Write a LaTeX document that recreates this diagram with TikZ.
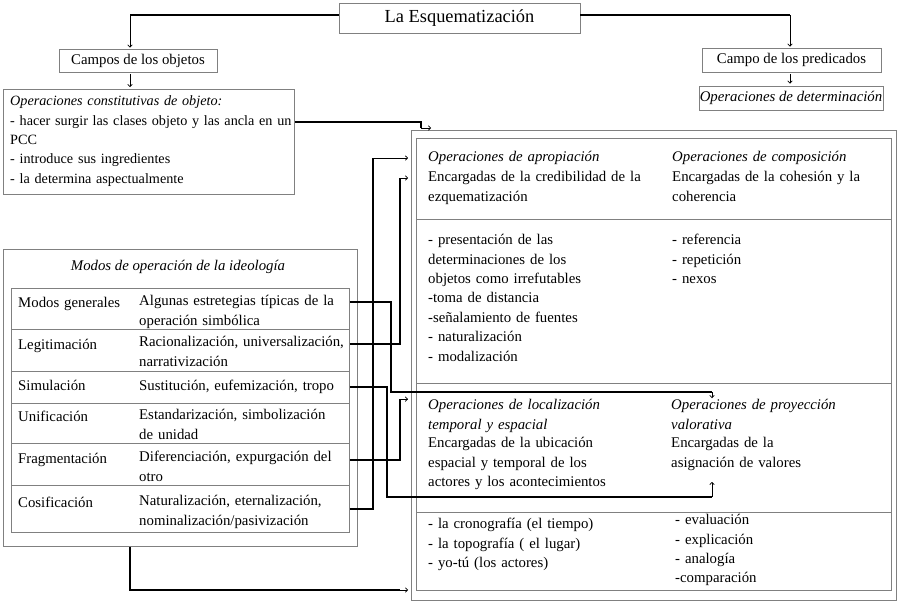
\documentclass[tikz,border=0pt]{standalone}
\usepackage{fontspec}
\setmainfont{Liberation Serif}
\usetikzlibrary{arrows.meta}

\begin{document}
\begin{tikzpicture}[x=1pt,y=1pt]
\tikzstyle{every node}+=[inner sep=0pt, font=\fontsize{14.8}{19.4}\selectfont]
\tikzstyle{box}=[draw=black!50, line width=0.8pt]
\tikzstyle{txt}=[anchor=base west, align=left, text width=300pt]
\tikzstyle{ital}=[font=\fontsize{14.8}{19.4}\selectfont\itshape]
\tikzstyle{wire}=[line width=2.1pt]
\tikzstyle{thinarrow}=[line width=0.7pt, -{To[length=3pt,width=5pt]}]
\useasboundingbox (0,0) rectangle (899,-603);
% upper boxes
\node[box, minimum width=241pt, minimum height=30pt, font=\fontsize{18.4}{22}\selectfont] (esq) at (459.5,-18) {La Esquematización};
\node[box, minimum width=158pt, minimum height=23pt] (cobj) at (138,-60.5) {Campos de los objetos};
\node[box, minimum width=179pt, minimum height=24pt] (cpred) at (791.5,-60) {Campo de los predicados};
\node[box, minimum width=184pt, minimum height=24pt] (odet) at (791,-98) {\textit{Operaciones de determinación}};
\node[box, anchor=north west, minimum width=291pt, minimum height=105pt] (ocon) at (3,-89) {};
\node[txt, font=\fontsize{14.2}{19.4}\selectfont] (ocont) at (10,-105.6) {\textit{Operaciones constitutivas de objeto:}\\- hacer surgir las clases objeto y las ancla en un\\PCC\\- introduce sus ingredientes\\- la determina aspectualmente};
% modos de operacion
\node[box, anchor=north west, minimum width=354pt, minimum height=297pt] (modos) at (3,-249) {};
\node[ital, anchor=base] (modost) at (178,-270.6) {Modos de operación de la ideología};
\node[box, anchor=north west, minimum width=338pt, minimum height=41pt] (rgen) at (11,-288) {};
\node[box, anchor=north west, minimum width=338pt, minimum height=42pt] (rleg) at (11,-329) {};
\node[box, anchor=north west, minimum width=338pt, minimum height=32pt] (rsim) at (11,-371) {};
\node[box, anchor=north west, minimum width=338pt, minimum height=40pt] (runi) at (11,-403) {};
\node[box, anchor=north west, minimum width=338pt, minimum height=42pt] (rfra) at (11,-443) {};
\node[box, anchor=north west, minimum width=338pt, minimum height=47pt] (rcos) at (11,-485) {};
\node[txt] (lgen) at (18,-307.6) {Modos generales};
\node[txt] (dgen) at (139,-305.6) {Algunas estretegias típicas de la\\operación simbólica};
\node[txt] (lleg) at (18,-349.6) {Legitimación};
\node[txt] (dleg) at (139,-346.6) {Racionalización, universalización,\\narrativización};
\node[txt] (lsim) at (18,-390.6) {Simulación};
\node[txt] (dsim) at (139,-390.6) {Sustitución, eufemización, tropo};
\node[txt] (luni) at (18,-421.6) {Unificación};
\node[txt] (duni) at (139,-419.6) {Estandarización, simbolización\\de unidad};
\node[txt] (lfra) at (18,-463.6) {Fragmentación};
\node[txt] (dfra) at (139,-461.6) {Diferenciación, expurgación del\\otro};
\node[txt] (lcos) at (18,-507.6) {Cosificación};
\node[txt] (dcos) at (139,-505.6) {Naturalización, eternalización,\\nominalización/pasivización};
% operaciones
\node[box, anchor=north west, minimum width=485pt, minimum height=470pt] (rbox) at (411,-130) {};
\node[box, anchor=north west, minimum width=475pt, minimum height=452pt] (rin) at (416,-138) {};
\foreach \y in {219,383,512}
  \draw[black!50, line width=0.8pt] (416,-\y) -- (891,-\y);
\node[txt, ital] (apro) at (428,-161.6) {Operaciones de apropiación};
\node[txt] (aprod) at (428,-181.6) {Encargadas de la credibilidad de la\\ezquematización};
\node[txt, ital, text width=210pt] (comp) at (672,-161.6) {Operaciones de composición};
\node[txt, text width=210pt] (compd) at (672,-181.6) {Encargadas de la cohesión y la\\coherencia};
\node[txt] (aprol) at (428,-244.6) {- presentación de las\\determinaciones de los\\objetos como irrefutables\\-toma de distancia\\-señalamiento de fuentes\\- naturalización\\- modalización};
\node[txt, text width=210pt] (compl) at (672,-244.6) {- referencia\\- repetición\\- nexos};
\node[txt, ital] (loca) at (428,-409.6) {Operaciones de localización\\temporal y espacial};
\node[txt] (locad) at (428,-447.6) {Encargadas de la ubicación\\espacial y temporal de los\\actores y los acontecimientos};
\node[txt, ital, text width=210pt] (proy) at (671,-409.6) {Operaciones de proyección\\valorativa};
\node[txt, text width=210pt] (proyd) at (671,-447.6) {Encargadas de la\\asignación de valores};
\node[txt] (local) at (428,-528.6) {- la cronografía (el tiempo)\\- la topografía ( el lugar)\\- yo-tú (los actores)};
\node[txt, text width=210pt] (proyl) at (675,-524.6) {- evaluación\\- explicación\\- analogía\\-comparación};
% connectors
\coordinate (k1) at (130,-15);
\coordinate (k2) at (790,-15);
\coordinate (k3) at (421,-128);
\coordinate (k4) at (373,0);
\coordinate (k5) at (391,0);
\coordinate (k6) at (712,-392);
\coordinate (k7) at (387,0);
\coordinate (k8) at (712,-497);
\coordinate (k9) at (400,0);
\coordinate (k10) at (130,-590);
\coordinate (tcred) at ([yshift=3.6]aprod.base);
\draw[wire] (esq.west |- k1) -- (k1);
\draw[thinarrow, shorten >=1pt] (k1) -- (k1 |- cobj.north);
\draw[wire] (esq.east |- k2) -- (k2);
\draw[thinarrow, shorten >=1pt] (k2) -- (k2 |- cpred.north);
\draw[thinarrow, shorten <=2pt, shorten >=2pt] (k1 |- cobj.south) -- (k1 |- ocon.north);
\draw[thinarrow, shorten <=2pt, shorten >=2pt] (k2 |- cpred.south) -- (k2 |- odet.north);
\draw[wire] ([yshift=19.5]ocon.east) -| (k3);
\draw[thinarrow] (k3) -- ++(10,0);
\draw[wire] (rcos.east) -| (k4 |- apro.west);
\draw[thinarrow, shorten >=3pt] (k4 |- apro.west) -- (rbox.west |- apro.west);
\draw[wire] ([yshift=6]rleg.east) -| (k9 |- tcred);
\draw[thinarrow, shorten >=3pt] (k9 |- tcred) -- (rbox.west |- tcred);
\draw[wire] ([yshift=6.5]rgen.east) -| (k5 |- k6) -- (k6);
\draw[thinarrow, shorten >=1pt] (k6) -- (k6 |- proy.north);
\draw[wire] (rsim.east) -| (k7 |- k8) -- (k8);
\draw[thinarrow] (k8) -- ++(0,15);
\draw[wire] ([yshift=4]rfra.east) -| (k9 |- loca.north);
\draw[thinarrow, shorten >=3pt] (k9 |- loca.north) -- (rbox.west |- loca.north);
\draw[wire] (k10 |- modos.south) -- (k10) -- (k9 |- k10);
\draw[thinarrow, shorten >=3pt] (k9 |- k10) -- (rbox.west |- k10);
\end{tikzpicture}
\end{document}
